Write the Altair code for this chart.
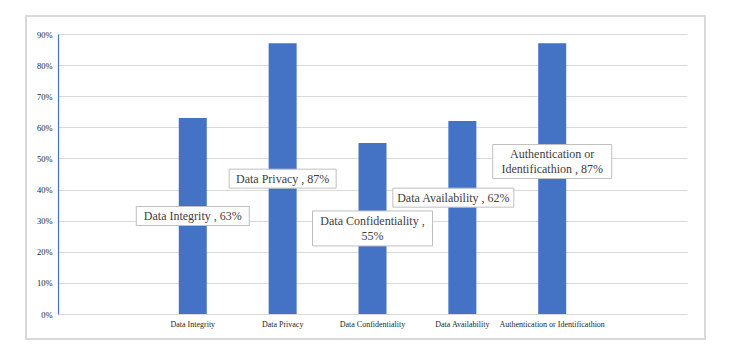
import altair as alt
import pandas as pd

# ---- data ----
slots = [" ", "Data Integrity", "Data Privacy", "Data Confidentiality",
         "Data Availability", "Authentication or Identificathion", "  "]
categories = ["Data Integrity", "Data Privacy", "Data Confidentiality",
              "Data Availability", "Authentication or Identificathion"]
values = [0.63, 0.87, 0.55, 0.62, 0.87]
label_texts = ["Data Integrity , 63%", "Data Privacy , 87%",
               "Data Confidentiality ,\n55%", "Data Availability , 62%",
               "Authentication or\nIdentificathion  , 87%"]
label_pos = [0.315, 0.435, 0.275, 0.374, 0.49]
y_ticks = [0, 0.1, 0.2, 0.3, 0.4, 0.5, 0.6, 0.7, 0.8, 0.9]

# ---- styles for label boxes ----
box_w = [113, 107, 120, 121, 119]
box_h = [19, 19, 35, 19, 34]
box_dx = [0, 0, 0, -9, 0]

W, H = 629, 280
BLUE = "#4472C4"
SERIF = "Liberation Serif, Times New Roman, serif"

bars_df = pd.DataFrame({"cat": categories, "val": values})

x_enc = alt.X("cat:N", scale=alt.Scale(domain=slots, paddingInner=0, paddingOuter=0),
              sort=slots,
              axis=alt.Axis(title=None, labelAngle=0, ticks=False, domain=False,
                            labelFont=SERIF, labelFontSize=8, labelColor="#262626",
                            labelPadding=6, grid=False, labelOverlap=False))
y_enc = alt.Y("val:Q", scale=alt.Scale(domain=[0, 0.9], nice=False),
              axis=alt.Axis(title=None, format=".0%", values=y_ticks, ticks=False,
                            domainColor=BLUE, domainWidth=1.2,
                            gridColor="#d9d9d9", gridWidth=1, labelOverlap=False,
                            labelFont=SERIF, labelFontSize=8.5, labelColor="#262626",
                            labelPadding=6))

frame = alt.Chart(bars_df).mark_rect(filled=False, stroke="#d9d9d9", strokeWidth=1.5).encode(
    x=alt.value(-32), x2=alt.value(W + 18), y=alt.value(-18), y2=alt.value(H + 25)
)

bars = alt.Chart(bars_df).mark_bar(width=28, color=BLUE).encode(x=x_enc, y=y_enc)

layers = [frame, bars]
for i, cat in enumerate(categories):
    ldf = pd.DataFrame({"cat": [cat], "val": [label_pos[i]], "txt": [label_texts[i]]})
    nlines = label_texts[i].count("\n") + 1
    box = alt.Chart(ldf).mark_rect(width=box_w[i], height=box_h[i], fill="white",
                                   stroke="#bfbfbf", strokeWidth=1, xOffset=box_dx[i]).encode(
        x=x_enc, y=y_enc)
    txt = alt.Chart(ldf).mark_text(font=SERIF, fontSize=12, color="#404040",
                                   lineBreak="\n", baseline="middle", align="center",
                                   dx=box_dx[i], dy=-7.5 * (nlines - 1), lineHeight=15).encode(
        x=x_enc, y=y_enc, text="txt:N")
    layers += [box, txt]

chart = alt.layer(*layers).properties(
    width=W, height=H,
    autosize=alt.AutoSizeParams(type="none"),
    padding={"left": 58, "top": 34, "right": 43, "bottom": 36},
    background="white",
).configure_view(stroke=None)

chart.save("out.html", embed_options={"renderer": "svg", "actions": False})
